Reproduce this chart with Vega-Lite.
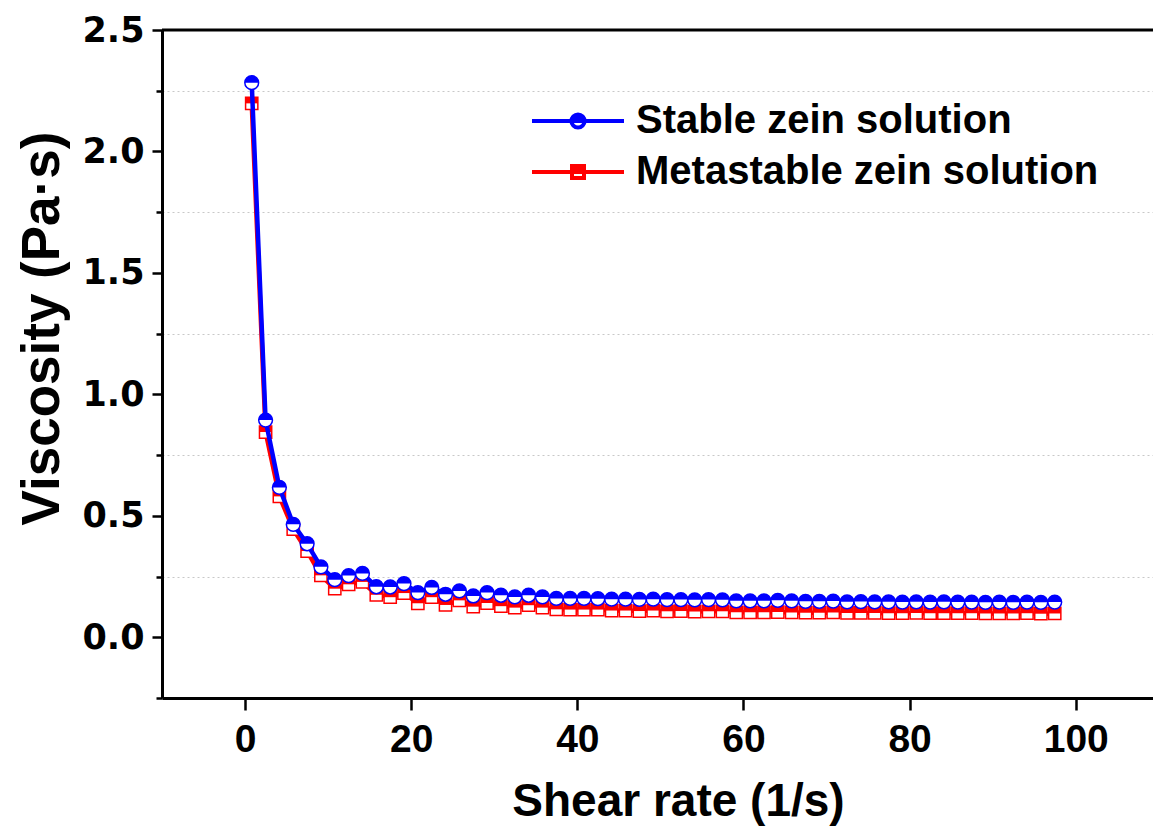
{
  "$schema": "https://vega.github.io/schema/vega-lite/v6.json",
  "autosize": "none",
  "padding": {"left": 162, "top": 30, "right": 0, "bottom": 138},
  "width": 991,
  "height": 668,
  "background": "white",
  "config": {
    "view": {"stroke": null},
    "font": "Liberation Sans"
  },
  "data": {"values": [
    {"rate": 0.8, "stable": 2.283, "meta": 2.198},
    {"rate": 2.47, "stable": 0.894, "meta": 0.845},
    {"rate": 4.13, "stable": 0.617, "meta": 0.580},
    {"rate": 5.8, "stable": 0.465, "meta": 0.445},
    {"rate": 7.47, "stable": 0.385, "meta": 0.355},
    {"rate": 9.13, "stable": 0.290, "meta": 0.255},
    {"rate": 10.8, "stable": 0.237, "meta": 0.200},
    {"rate": 12.47, "stable": 0.254, "meta": 0.218},
    {"rate": 14.13, "stable": 0.263, "meta": 0.228},
    {"rate": 15.8, "stable": 0.208, "meta": 0.175},
    {"rate": 17.47, "stable": 0.207, "meta": 0.165},
    {"rate": 19.13, "stable": 0.221, "meta": 0.182},
    {"rate": 20.8, "stable": 0.184, "meta": 0.140},
    {"rate": 22.47, "stable": 0.205, "meta": 0.165},
    {"rate": 24.13, "stable": 0.177, "meta": 0.133},
    {"rate": 25.8, "stable": 0.191, "meta": 0.152},
    {"rate": 27.47, "stable": 0.170, "meta": 0.126},
    {"rate": 29.13, "stable": 0.184, "meta": 0.141},
    {"rate": 30.8, "stable": 0.173, "meta": 0.128},
    {"rate": 32.47, "stable": 0.166, "meta": 0.122},
    {"rate": 34.13, "stable": 0.173, "meta": 0.132},
    {"rate": 35.8, "stable": 0.166, "meta": 0.122},
    {"rate": 37.47, "stable": 0.160, "meta": 0.115},
    {"rate": 39.13, "stable": 0.160, "meta": 0.114},
    {"rate": 40.8, "stable": 0.160, "meta": 0.114},
    {"rate": 42.47, "stable": 0.159, "meta": 0.114},
    {"rate": 44.13, "stable": 0.157, "meta": 0.110},
    {"rate": 45.8, "stable": 0.157, "meta": 0.110},
    {"rate": 47.47, "stable": 0.156, "meta": 0.108},
    {"rate": 49.13, "stable": 0.157, "meta": 0.110},
    {"rate": 50.8, "stable": 0.155, "meta": 0.107},
    {"rate": 52.47, "stable": 0.155, "meta": 0.108},
    {"rate": 54.13, "stable": 0.154, "meta": 0.106},
    {"rate": 55.8, "stable": 0.155, "meta": 0.107},
    {"rate": 57.47, "stable": 0.154, "meta": 0.107},
    {"rate": 59.13, "stable": 0.150, "meta": 0.103},
    {"rate": 60.8, "stable": 0.150, "meta": 0.103},
    {"rate": 62.47, "stable": 0.150, "meta": 0.103},
    {"rate": 64.13, "stable": 0.152, "meta": 0.104},
    {"rate": 65.8, "stable": 0.150, "meta": 0.102},
    {"rate": 67.47, "stable": 0.148, "meta": 0.101},
    {"rate": 69.13, "stable": 0.148, "meta": 0.101},
    {"rate": 70.8, "stable": 0.149, "meta": 0.102},
    {"rate": 72.47, "stable": 0.146, "meta": 0.100},
    {"rate": 74.13, "stable": 0.147, "meta": 0.100},
    {"rate": 75.8, "stable": 0.146, "meta": 0.100},
    {"rate": 77.47, "stable": 0.146, "meta": 0.099},
    {"rate": 79.13, "stable": 0.145, "meta": 0.099},
    {"rate": 80.8, "stable": 0.146, "meta": 0.100},
    {"rate": 82.47, "stable": 0.145, "meta": 0.099},
    {"rate": 84.13, "stable": 0.146, "meta": 0.099},
    {"rate": 85.8, "stable": 0.145, "meta": 0.099},
    {"rate": 87.47, "stable": 0.145, "meta": 0.099},
    {"rate": 89.13, "stable": 0.144, "meta": 0.098},
    {"rate": 90.8, "stable": 0.145, "meta": 0.098},
    {"rate": 92.47, "stable": 0.144, "meta": 0.098},
    {"rate": 94.13, "stable": 0.145, "meta": 0.099},
    {"rate": 95.8, "stable": 0.144, "meta": 0.097},
    {"rate": 97.47, "stable": 0.145, "meta": 0.098}
  ]},
  "encoding": {
    "x": {
      "field": "rate", "type": "quantitative",
      "scale": {"domain": [-10, 109.3], "nice": false, "zero": false},
      "axis": {
        "title": "Shear rate (1/s)",
        "values": [0, 20, 40, 60, 80, 100],
        "grid": false,
        "domainColor": "black", "domainWidth": 3,
        "tickColor": "black", "tickWidth": 2.5, "tickSize": 12,
        "labelFont": "Liberation Sans", "labelFontWeight": "bold", "labelFontSize": 39, "labelColor": "black", "labelPadding": 10,
        "titleFont": "Liberation Sans", "titleFontWeight": "bold", "titleFontSize": 46, "titleColor": "black", "titlePadding": 20,
        "titleX": 516
      }
    }
  },
  "layer": [
    {
      "data": {"values": [{}]},
      "mark": {"type": "rule", "color": "black", "strokeWidth": 3},
      "encoding": {"x": null, "y": {"datum": 2.5, "type": "quantitative"}}
    },
    {
      "mark": {"type": "line", "strokeWidth": 4.5},
      "encoding": {
        "y": {
          "field": "meta", "type": "quantitative",
          "scale": {"domain": [-0.25, 2.5], "nice": false, "zero": false},
          "axis": {
            "title": "Viscosity (Pa·s)",
            "values": [-0.25, 0, 0.25, 0.5, 0.75, 1, 1.25, 1.5, 1.75, 2, 2.25, 2.5],
            "labelExpr": "abs(datum.value*2 - round(datum.value*2)) < 0.001 ? format(datum.value, '.1f') : ''",
            "grid": true,
            "gridColor": "#c8c8c8", "gridDash": [2, 3], "gridWidth": 1,
            "gridOpacity": {"condition": {"test": "abs(datum.value*2 - round(datum.value*2)) < 0.001", "value": 0}, "value": 1},
            "domainColor": "black", "domainWidth": 3,
            "tickColor": "black", "tickWidth": 2.5,
            "tickSize": {"condition": {"test": "abs(datum.value*2 - round(datum.value*2)) < 0.001", "value": 10}, "value": 6},
            "labelFont": "DejaVu Sans", "labelFontWeight": "bold", "labelFontSize": 35, "labelColor": "black", "labelPadding": 8,
            "titleFont": "Liberation Sans", "titleFontWeight": "bold", "titleFontSize": 53, "titleColor": "black", "titlePadding": 12,
            "titleY": 298
          }
        },
        "color": {
          "datum": "Metastable zein solution",
          "scale": {"domain": ["Stable zein solution", "Metastable zein solution"], "range": ["#0000ff", "#ff0000"]}
        }
      }
    },
    {
      "mark": {"type": "point", "shape": "square", "size": 150, "filled": true, "fill": "white", "stroke": "#ff0000", "strokeWidth": 1.5, "opacity": 1},
      "encoding": {"y": {"field": "meta", "type": "quantitative"}}
    },
    {
      "mark": {"type": "point", "shape": "M-1,-1H1V0H-1Z", "size": 150, "filled": true, "fill": "#ff0000", "strokeWidth": 0, "opacity": 1},
      "encoding": {"y": {"field": "meta", "type": "quantitative"}}
    },
    {
      "mark": {"type": "line", "strokeWidth": 4.5},
      "encoding": {
        "y": {"field": "stable", "type": "quantitative"},
        "color": {
          "datum": "Stable zein solution",
          "legend": {
            "title": null,
            "orient": "none",
            "legendX": 394,
            "legendY": 69,
            "symbolSize": 1600,
            "symbolStrokeWidth": 4,
            "labelFont": "Liberation Sans", "labelFontWeight": "bold", "labelFontSize": 40, "labelColor": "black",
            "labelOffset": 36,
            "labelLimit": 800,
            "rowPadding": 9,
            "encode": {
              "symbols": {
                "update": {
                  "shape": {"signal": "datum.value === 'Stable zein solution' ? 'M-2.3,0H-0.33M0.33,0H2.3M-0.33,0A0.33,0.33 0 0 1 0.33,0ZM-0.33,0A0.33,0.33 0 0 0 0.33,0A0.33,0.33 0 0 1 -0.33,0' : 'M-2.3,0H-0.3M0.3,0H2.3M-0.3,-0.3H0.3V0H-0.3ZM-0.3,0V0.3H0.3V0V0.3H-0.3V0'"},
                  "fill": {"signal": "datum.value === 'Stable zein solution' ? '#0000ff' : '#ff0000'"},
                  "stroke": {"signal": "datum.value === 'Stable zein solution' ? '#0000ff' : '#ff0000'"},
                  "strokeWidth": {"value": 4},
                  "fillOpacity": {"value": 1},
                  "opacity": {"value": 1}
                }
              }
            }
          }
        }
      }
    },
    {
      "mark": {"type": "point", "shape": "circle", "size": 190, "filled": true, "fill": "white", "stroke": "#0000ff", "strokeWidth": 1.5, "opacity": 1},
      "encoding": {"y": {"field": "stable", "type": "quantitative"}}
    },
    {
      "mark": {"type": "point", "shape": "M-1,0A1,1 0 0 1 1,0Z", "size": 190, "filled": true, "fill": "#0000ff", "strokeWidth": 0, "opacity": 1},
      "encoding": {"y": {"field": "stable", "type": "quantitative"}}
    }
  ]
}
